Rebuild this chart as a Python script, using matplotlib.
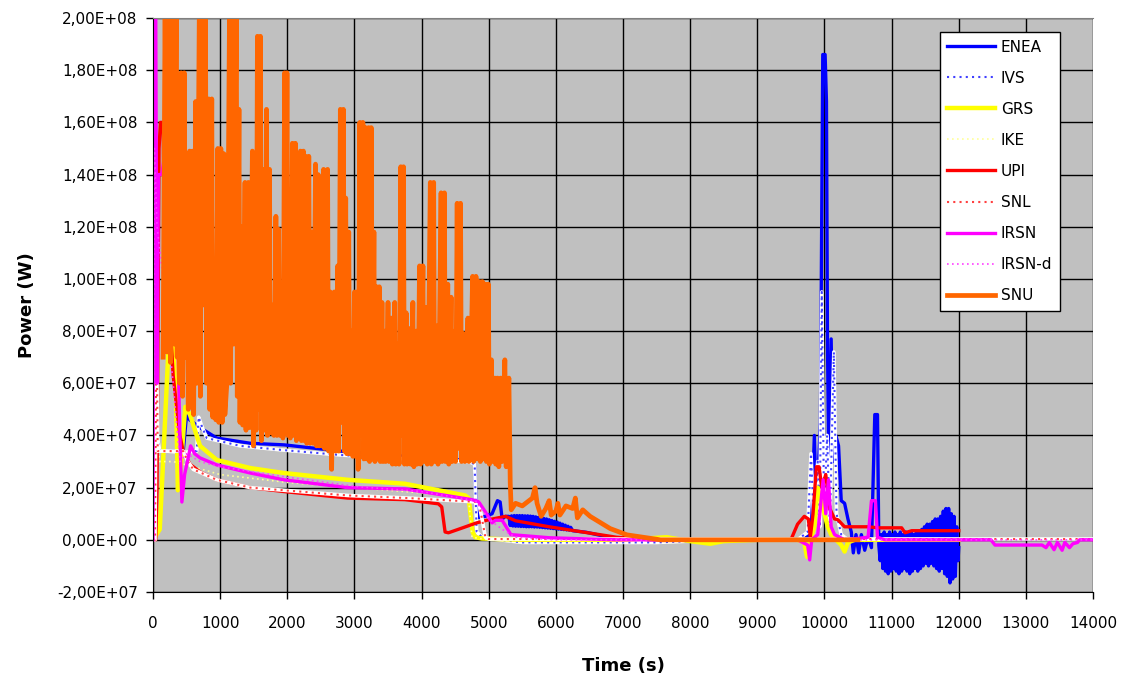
import matplotlib
matplotlib.use("Agg")
import matplotlib.pyplot as plt
from matplotlib.ticker import FuncFormatter, MultipleLocator
import numpy as np

# (time s, power MW)
enea = [(0, 0), (30, 34), (450, 34), (500, 48), (545, 46), (700, 43), (950, 39),
        (1450, 37), (1950, 36.4), (2450, 35), (2900, 33.7), (3300, 33), (3750, 32), (4250, 31),
        (4750, 30.4), (4790, 29), (4810, 15), (4850, 8.6), (4950, 9), (5050, 10), (5130, 15),
        (5170, 14.5), (5200, 8), (5250, 9), (5300, 9), (5320, 5.5), (5340, 9.2), (5360, 5.3),
        (5380, 9.3), (5400, 5.2), (5420, 9.3), (5440, 5.2), (5460, 9.3), (5480, 5.1), (5500, 9.3),
        (5520, 5.1), (5540, 9.2), (5560, 5.0), (5580, 9.2), (5600, 5.0), (5620, 9.1), (5640, 5.0),
        (5660, 9.0), (5680, 4.9), (5700, 8.8), (5720, 4.9), (5740, 8.6), (5760, 4.8), (5780, 8.5),
        (5800, 4.7), (5820, 8.2), (5840, 4.6), (5860, 8.0), (5880, 4.5), (5900, 7.7), (5920, 4.4),
        (5940, 7.4), (5960, 4.3), (5980, 7.1), (6000, 4.2), (6020, 6.8), (6040, 4.1), (6060, 6.4),
        (6080, 4.0), (6100, 6.0), (6120, 3.9), (6140, 5.6), (6160, 3.8), (6180, 5.2), (6200, 3.7),
        (6220, 4.8), (6250, 3.5), (6350, 3.2), (6450, 2.9), (6700, 1.5), (6950, 0.4), (7450, -0.5),
        (8000, -0.5), (8500, -0.3), (9000, 0), (9500, 0.3), (9700, 0.5), (9800, 2), (9850, 40),
        (9880, 10), (9940, 45), (9975, 186), (10010, 186), (10030, 168), (10045, 76), (10070, 15),
        (10100, 77), (10130, 30), (10170, 40), (10210, 36), (10250, 15), (10300, 14), (10350, 8),
        (10400, 3), (10430, -5), (10470, 2), (10510, -5), (10550, 2), (10600, -4), (10650, 1),
        (10700, -3), (10750, 48), (10790, 48), (10810, -2), (10830, -8), (10850, 2), (10870, -11),
        (10890, 3), (10910, -12), (10930, 2), (10950, -13), (10970, 3), (10990, -12), (11010, 2),
        (11030, -11), (11050, 3), (11070, -12), (11090, 2), (11110, -13), (11130, 3), (11150, -12),
        (11170, 2), (11190, -11), (11210, 3), (11230, -12), (11250, 2), (11270, -13), (11290, 3),
        (11310, -12), (11330, 2), (11350, -11), (11370, 3), (11390, -12), (11410, 3), (11430, -11),
        (11450, 4), (11470, -10), (11490, 5), (11510, -9), (11530, 6), (11550, -10), (11570, 6),
        (11590, -9), (11610, 7), (11630, -10), (11650, 8), (11670, -11), (11690, 8), (11710, -12),
        (11730, 9), (11750, -11), (11770, 11), (11790, -13), (11810, 12), (11830, -14), (11850, 12),
        (11870, -16.5), (11890, 10), (11910, -15), (11930, 9), (11950, -14), (11970, 5),
        (11990, -8), (12000, -3)]

ivs = [(0, 0), (20, 60), (40, 100), (60, 40), (100, 34), (200, 34), (450, 33.5), (650, 34),
       (680, 47), (720, 44), (800, 39), (1300, 36), (1900, 34.5), (2800, 32.5), (3800, 31),
       (4700, 30), (4790, 29), (4820, 3), (4900, 1), (5000, 0.5), (5500, -1), (6500, -1),
       (7500, -1), (8000, -0.5), (9000, 0), (9600, 0), (9750, 3), (9800, 33), (9840, 8), (9900, 30),
       (9930, 5), (9960, 95), (9995, 10), (10040, 40), (10080, 5), (10140, 72), (10180, 10),
       (10250, 2), (10350, 0), (11000, 0), (12000, 0)]

grs = [(0, 0), (100, 4), (150, 30), (250, 84), (320, 84), (370, 19), (420, 30), (480, 51),
       (550, 48), (700, 36), (950, 30.6), (1450, 27.5), (1950, 25.6), (2900, 23), (3750, 21.5),
       (4650, 17), (4700, 16), (4760, 3), (4800, 1), (4900, 0.5), (5500, 0), (7000, 0),
       (7650, 1), (8000, -0.5), (8300, -1.5), (8500, -0.5), (9000, 0), (9600, 0), (9700, -1),
       (9740, -6.5), (9780, -1), (9850, 5), (9900, 20), (9950, 15), (10000, 10), (10050, 5),
       (10100, 2), (10250, -2), (10300, -4.5), (10350, -1), (10450, 0), (11000, 0), (12000, 0)]

ike = [(0, 0), (50, 40), (100, 30), (300, 30), (600, 28), (1000, 25), (2000, 22), (3000, 20),
       (4000, 18), (4700, 16), (4750, 1), (5000, 0), (8000, 0), (10000, 0), (12000, 0)]

upi = [(0, 0), (40, 0), (60, 20), (90, 150), (110, 160), (150, 160), (170, 111), (200, 108),
       (300, 63), (400, 40), (450, 34), (550, 29), (700, 26), (950, 23), (1450, 20), (1950, 18.5),
       (2900, 16), (3750, 15.4), (4250, 13.8), (4300, 12.6), (4350, 3), (4400, 2.7), (4600, 4.5),
       (4820, 6.5), (5000, 7.7), (5250, 9), (5400, 7.3), (5900, 5), (6400, 3), (6900, 1),
       (7400, 0), (9000, 0), (9500, 0), (9600, 6), (9700, 9), (9760, 8), (9790, 1), (9830, 10),
       (9880, 28), (9920, 28), (9960, 20), (10020, 25), (10080, 12), (10150, 8), (10200, 7.7),
       (10300, 5), (10650, 5), (10800, 4.6), (11150, 4.6), (11200, 2.7), (11300, 3.5), (12000, 3.5)]

snl = [(0, 0), (30, 0), (50, 85), (70, 34), (100, 34), (450, 34), (520, 30), (600, 27), (950, 23),
       (1450, 20), (1950, 19), (2900, 17), (3800, 16), (4850, 14.5), (4900, 8), (4950, 1),
       (5000, 0.3), (6000, 0.3), (8000, 0.3), (10000, 0.3), (12000, 0.3), (14000, 0.3)]

irsn = [(0, 0), (10, 205), (40, 205), (60, 60), (80, 140), (130, 140), (170, 147), (190, 116),
        (220, 110), (300, 86), (360, 86), (400, 40), (430, 14.5), (470, 25), (520, 31), (560, 36),
        (620, 33), (700, 31.4), (950, 28.7), (1450, 25.6), (1950, 23), (2900, 20), (3750, 19.5),
        (4750, 15.4), (4850, 14.6), (4950, 10.7), (5050, 6.5), (5100, 7.5), (5200, 7.5),
        (5330, 2), (5900, 0.8), (6900, 0), (9000, 0), (9600, 0), (9750, -2), (9780, -7.7),
        (9810, 0), (9900, 2), (9980, 23), (10020, 10), (10060, 23), (10100, 5), (10150, 2),
        (10300, 0), (10650, 1), (10700, 15), (10760, 15), (10790, 1), (10900, 0), (12000, 0),
        (12480, 0), (12540, -2), (13240, -2), (13300, -3), (13350, -1), (13420, -3.8),
        (13470, -1), (13540, -4), (13580, -1), (13650, -3), (13700, -1.5), (13770, -1),
        (13800, 0), (14000, 0)]

irsn_d = [(0, 0), (20, 150), (60, 120), (150, 100), (300, 60), (400, 30), (500, 33), (700, 30),
          (1000, 28), (2000, 24), (3000, 20.5), (4000, 18.5), (4800, 15), (5000, 8), (5200, 4),
          (5400, 1), (6000, 0), (10000, 0), (12000, 0), (14000, 0)]

snu = [(150, 70), (180, 205), (210, 72), (235, 205), (260, 68), (290, 205), (315, 75), (345, 205),
       (360, 70), (380, 154), (395, 60), (420, 179), (440, 55), (465, 179), (480, 70), (510, 95),
       (525, 50), (545, 149), (560, 55), (590, 149), (605, 48), (635, 168), (650, 60), (690, 205),
       (705, 55), (730, 205), (745, 90), (780, 205), (800, 60), (830, 169), (845, 50), (875, 169),
       (890, 47), (920, 90), (935, 46), (965, 150), (980, 45), (1010, 150), (1030, 45), (1055, 148),
       (1070, 48), (1100, 60), (1140, 205), (1155, 60), (1185, 205), (1200, 75), (1240, 205),
       (1255, 55), (1280, 165), (1295, 45), (1320, 120), (1335, 44), (1370, 137), (1385, 42),
       (1420, 137), (1440, 43), (1480, 149), (1495, 36), (1520, 120), (1535, 42), (1555, 193),
       (1570, 50), (1600, 193), (1615, 38), (1650, 142), (1665, 42), (1690, 165), (1705, 40),
       (1735, 142), (1750, 41), (1780, 90), (1800, 40), (1830, 124), (1845, 40), (1870, 119),
       (1890, 40), (1920, 90), (1935, 39), (1960, 179), (1975, 50), (1995, 179), (2010, 40),
       (2030, 134), (2045, 39), (2075, 152), (2090, 40), (2120, 152), (2135, 38), (2160, 100),
       (2175, 39), (2195, 149), (2210, 38), (2240, 149), (2255, 38), (2275, 147), (2290, 37),
       (2320, 147), (2340, 37), (2370, 118), (2385, 37), (2420, 144), (2435, 36), (2460, 140),
       (2475, 36), (2500, 90), (2515, 36), (2540, 142), (2555, 35), (2600, 142), (2615, 34),
       (2640, 95), (2660, 27), (2700, 95), (2720, 34), (2750, 105), (2765, 34), (2790, 165),
       (2805, 45), (2835, 165), (2850, 34), (2870, 131), (2885, 33), (2915, 118), (2930, 33),
       (2960, 80), (2975, 32), (3000, 95), (3015, 32), (3040, 95), (3055, 27), (3080, 160),
       (3095, 40), (3125, 160), (3140, 31), (3165, 158), (3180, 31), (3210, 158), (3225, 30),
       (3250, 158), (3265, 31), (3290, 118), (3305, 30), (3330, 97), (3345, 31), (3370, 97),
       (3385, 30), (3410, 91), (3425, 30), (3450, 80), (3465, 30), (3500, 91), (3515, 30),
       (3550, 85), (3565, 29), (3600, 91), (3615, 29), (3650, 75), (3665, 29), (3690, 143),
       (3705, 40), (3730, 143), (3745, 29), (3770, 87), (3785, 29), (3820, 81), (3835, 29),
       (3870, 91), (3885, 28), (3920, 80), (3935, 29), (3970, 105), (3985, 29), (4020, 105),
       (4035, 30), (4070, 89), (4085, 29), (4130, 137), (4145, 29), (4180, 137), (4195, 30),
       (4230, 82), (4245, 29), (4290, 133), (4305, 30), (4340, 133), (4355, 30), (4390, 98),
       (4405, 29), (4440, 93), (4455, 30), (4490, 80), (4505, 30), (4530, 129), (4545, 35),
       (4580, 129), (4595, 30), (4630, 79), (4645, 30), (4690, 85), (4705, 30), (4760, 101),
       (4775, 30), (4810, 101), (4825, 31), (4860, 99), (4875, 30), (4905, 99), (4920, 31),
       (4950, 98), (4965, 30), (4995, 98), (5010, 29), (5040, 69), (5055, 30), (5090, 62),
       (5105, 29), (5130, 62), (5150, 28), (5180, 62), (5200, 30), (5240, 69), (5260, 28),
       (5300, 62), (5320, 22), (5335, 11.5), (5400, 14), (5500, 13), (5650, 16), (5690, 20),
       (5720, 14), (5780, 9), (5850, 12), (5900, 15), (5930, 9.5), (6000, 11), (6030, 14),
       (6060, 9.5), (6150, 13), (6250, 12), (6290, 16), (6320, 8.4), (6400, 11.5), (6510, 9),
       (6810, 4.3), (7060, 1.9), (7560, 0), (8500, 0), (9500, 0), (10500, 0)]

labels = ["ENEA", "IVS", "GRS", "IKE", "UPI", "SNL", "IRSN", "IRSN-d", "SNU"]
series = [enea, ivs, grs, ike, upi, snl, irsn, irsn_d, snu]
colors = ["#0000ff", "#4040ff", "#ffff00", "#ffff99", "#ff0000", "#ff4040", "#ff00ff", "#ff40ff", "#ff6600"]
widths = [2.4, 1.5, 3.2, 1.2, 2.4, 1.5, 2.4, 1.2, 3.4]
dotted = [False, True, False, True, False, True, False, True, False]

plt.rcParams['font.family'] = ['DejaVu Sans']
fig = plt.figure(figsize=(11.26, 6.8), dpi=100)
ax = fig.add_axes([0.1359, 0.1294, 0.8348, 0.8441])
ax.set_facecolor("#c0c0c0")

for data, lab, col, lw, dot in zip(series, labels, colors, widths, dotted):
    t, p = np.array(data).T
    if dot:
        if lab in ("IVS", "SNL"):
            ax.plot(t, p * 1e6, color="white", lw=2.6, solid_capstyle="butt")
        ax.plot(t, p * 1e6, color=col, lw=lw, linestyle=(0, (1, 2)), label=lab)
    else:
        ax.plot(t, p * 1e6, color=col, lw=lw, label=lab)

ax.set_xlim(0, 14000)
ax.set_ylim(-2e7, 2e8)
ax.xaxis.set_major_locator(MultipleLocator(1000))
ax.yaxis.set_major_locator(MultipleLocator(2e7))
ax.yaxis.set_major_formatter(FuncFormatter(lambda v, pos: f"{v:.2E}".replace(".", ",")))
ax.grid(True, color="black", lw=1)
ax.set_axisbelow(True)
ax.tick_params(labelsize=11, length=5, width=1, colors="black")
ax.tick_params(axis="x", pad=12)
ax.tick_params(axis="y", pad=6)
ax.spines["top"].set_color("#808080")
ax.spines["right"].set_visible(False)

ax.set_xlabel("Time (s)", fontsize=13, fontweight="bold", labelpad=19)
ax.set_ylabel("Power (W)", fontsize=13, fontweight="bold", labelpad=15)

leg = ax.legend(loc="upper right", bbox_to_anchor=(0.965, 0.9756), borderaxespad=0, fontsize=11,
                frameon=True, fancybox=False, edgecolor="black", framealpha=1, labelspacing=1.05,
                handlelength=3.1, handletextpad=0.4, borderpad=0.5)
leg.get_frame().set_linewidth(1)

fig.savefig("out.png", dpi=100)
